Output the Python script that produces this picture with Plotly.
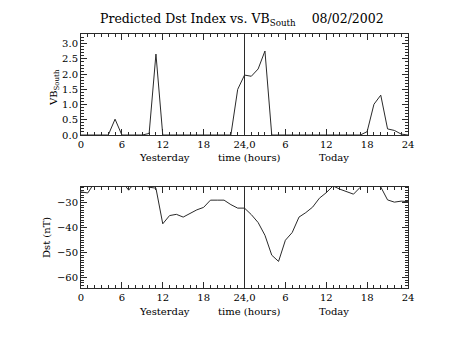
import plotly.graph_objects as go

# Hourly samples over two days: 0-24 = yesterday, 24-48 = today
hours = list(range(49))

vb_south = [0, 0, 0, 0, 0, 0.52, 0, 0, 0, 0,
            0.05, 2.66, 0, 0, 0, 0, 0, 0, 0, 0,
            0, 0, 0, 1.5, 1.97, 1.93, 2.17, 2.76, 0, 0,
            0, 0, 0, 0, 0, 0, 0, 0, 0, 0,
            0, 0, 0.11, 1.01, 1.31, 0.2, 0.15, 0.03, 0]

dst = [-25.6, -26.0, -21.8, -21.0, -20.5, -21.0, -21.4, -24.9, -21.4, -22.8,
       -23.7, -24.1, -38.4, -35.1, -34.6, -35.7, -34.3, -32.8, -31.8, -28.9,
       -28.9, -28.9, -30.7, -32.1, -32.1, -34.7, -37.9, -43.0, -51.0, -53.5,
       -45.0, -41.9, -35.7, -33.9, -31.7, -28.1, -25.9, -23.2, -24.5, -25.5,
       -26.5, -23.7, -21.5, -21.8, -23.6, -28.8, -29.7, -29.3, -29.5]

x_tick_vals = [0, 6, 12, 18, 24, 30, 36, 42, 48]
x_tick_text = ["0", "6", "12", "18", "24,0", "6", "12", "18", "24"]

W, H = 453, 340
FONT = "DejaVu Serif"
INK = "#2a2a2a"
LABEL_SIZE = 10

x_dom = [81 / W, 408 / W]
top_dom = [1 - 135 / H, 1 - 34.3 / H]
bot_dom = [1 - 288.3 / H, 1 - 186.7 / H]

fig = go.Figure()
fig.add_trace(go.Scatter(x=hours, y=vb_south, mode="lines",
                         line=dict(color=INK, width=1), xaxis="x", yaxis="y"))
fig.add_trace(go.Scatter(x=hours, y=dst, mode="lines",
                         line=dict(color=INK, width=1), xaxis="x2", yaxis="y2"))

axis_style = dict(ticks="inside", ticklen=6, tickcolor=INK,
                  showline=True, linecolor=INK, linewidth=1, mirror="allticks",
                  showgrid=False, zeroline=False, automargin=False,
                  tickfont=dict(family=FONT, size=LABEL_SIZE, color="black"))

xcommon = dict(range=[0, 48], tickmode="array", tickvals=x_tick_vals,
               ticktext=x_tick_text,
               minor=dict(dtick=1, ticks="inside", ticklen=3, tickcolor=INK),
               **axis_style)

fig.update_layout(
    width=W, height=H, autosize=False,
    margin=dict(l=0, r=0, t=0, b=0, pad=0),
    paper_bgcolor="white", plot_bgcolor="white",
    showlegend=False,
    xaxis=dict(domain=x_dom, anchor="y", **xcommon),
    xaxis2=dict(domain=x_dom, anchor="y2", **xcommon),
    yaxis=dict(domain=top_dom, anchor="x", range=[0, 3.31], dtick=0.5, tick0=0,
               tickformat=".1f",
               minor=dict(dtick=0.1, ticks="inside", ticklen=3, tickcolor=INK),
               **axis_style),
    yaxis2=dict(domain=bot_dom, anchor="x2", range=[-64.3, -23.5], dtick=10, tick0=0,
                minor=dict(dtick=1, ticks="inside", ticklen=3, tickcolor=INK),
                **axis_style),
)

# Day boundary marker in both panels
for xr, yr in (("x", "y domain"), ("x2", "y2 domain")):
    fig.add_shape(type="line", xref=xr, yref=yr, x0=24, x1=24, y0=0, y1=1,
                  line=dict(color=INK, width=1))

def note(text, x, y, size=LABEL_SIZE, angle=0, xref="paper", yref="paper"):
    fig.add_annotation(text=text, x=x, y=y, xref=xref, yref=yref,
                       xanchor="center", yanchor="middle",
                       showarrow=False, textangle=angle,
                       font=dict(family=FONT, size=size, color="black"))

note("Predicted Dst Index vs. VB<sub>South</sub>&nbsp;&nbsp;&nbsp;&nbsp;08/02/2002",
     242 / W, 1 - 19 / H, size=12.5)

for yref_px in (157.7, 311):
    note("Yesterday", 12.3, 1 - yref_px / H, xref="x")
    note("time (hours)", 24.8, 1 - yref_px / H, xref="x")
    note("Today", 37.1, 1 - yref_px / H, xref="x")

note("VB<sub>South</sub>", 55 / W, 1 - 88 / H, angle=-90)
note("Dst (nT)", 47 / W, 1 - 238 / H, angle=-90)

fig.write_html("out.html")
